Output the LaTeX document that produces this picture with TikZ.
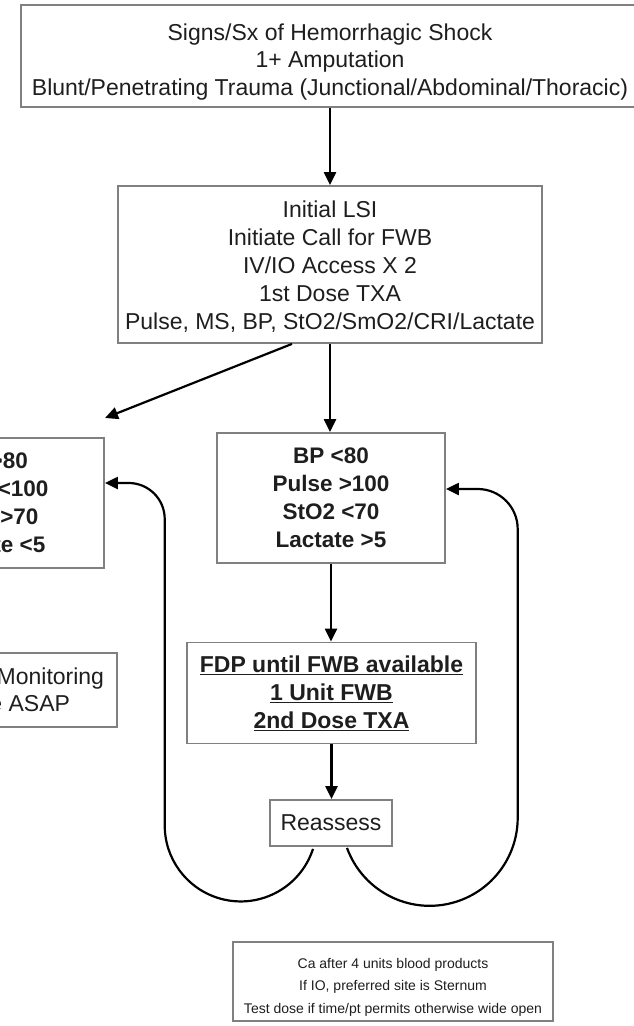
\documentclass[tikz,border=0pt]{standalone}
\usepackage{fontspec}
\setmainfont{Liberation Sans}
\usetikzlibrary{arrows.meta,calc}
\definecolor{boxgray}{RGB}{128,128,128}
\definecolor{txt}{RGB}{30,30,30}
\begin{document}
\begin{tikzpicture}[x=1pt,y=1pt,
  box/.style={draw=boxgray, line width=1.8pt, rectangle, align=center, text=txt, inner sep=0pt, font=\fontsize{23}{28}\selectfont},
  plaintext/.style={align=center, text=txt, inner sep=0pt},
  boldbox/.style={box, font=\fontsize{22.5}{28}\bfseries\selectfont},
  arr/.style={draw=black, line width=2.2pt, -{Triangle[length=13pt,width=12pt]}},
]
\useasboundingbox (0,0) rectangle (634,-1026);
\clip (0,0) rectangle (634,-1026);

\node[box, minimum width=618pt, minimum height=102pt] (top) at (330,-56) {};
\node[plaintext, font=\fontsize{23}{27.5}\selectfont] (toptext) at (330,-62)
  {Signs/Sx of Hemorrhagic Shock\\1+ Amputation\\Blunt/Penetrating Trauma (Junctional/Abdominal/Thoracic)};
\node[box, minimum width=424pt, minimum height=157pt] (lsi) at (330,-264.5) {};
\node[plaintext, font=\fontsize{23}{28}\selectfont] (lsitext) at (330,-267)
  {Initial LSI\\Initiate Call for FWB\\IV/IO Access X 2\\1st Dose TXA\\Pulse, MS, BP, StO2/SmO2/CRI/Lactate};
\node[boldbox, minimum width=228pt, minimum height=130pt] (crit) at (331,-498)
  {BP {<}80\\Pulse {>}100\\StO2 {<}70\\Lactate {>}5};
\node[boldbox, minimum width=228pt, minimum height=130pt] (stable) at (-10,-503)
  {BP {>}80\\Pulse {<}100\\StO2 {>}70\\Lactate {<}5};
\node[box, minimum height=74pt, inner xsep=13pt, font=\fontsize{23}{27}\selectfont, anchor=east] (mon) at (118,-690)
  {Continue Monitoring\\Evacuate ASAP\hspace*{26pt}};
\node[boldbox, minimum width=289pt, minimum height=101pt, font=\fontsize{23}{28}\bfseries\selectfont] (fdp) at (331.5,-693)
  {\underline{FDP until FWB available}\\\underline{1 Unit FWB}\\\underline{2nd Dose TXA}};
\node[box, minimum width=122pt, minimum height=46pt] (reassess) at (331,-823) {Reassess};
\node[box, minimum width=320pt, minimum height=79pt] (note) at (393,-981.5) {};
\node[plaintext, font=\fontsize{14}{22.5}\selectfont] (notetext) at (393,-987)
  {Ca after 4 units blood products\\If IO, preferred site is Sternum\\Test dose if time/pt permits otherwise wide open};

\coordinate (diagtip) at (105,-418);

\draw[arr] (top.south) -- (lsi.north);
\draw[arr] ([xshift=-38pt]lsi.south) -- (diagtip);
\draw[arr] (lsi.south) -- (lsi.south |- crit.north);
\draw[arr] (crit.south) -- (crit.south |- fdp.north);
\draw[arr] (fdp.south) -- (fdp.south |- reassess.north);
\draw[arr] ([xshift=-18pt,yshift=-2pt]reassess.south) arc[start angle=-18,end angle=-180,radius=76pt]
  {[rounded corners=36pt] |- ([yshift=20pt]stable.east)};
\draw[arr] ([xshift=16pt,yshift=-1pt]reassess.south) arc[start angle=-160,end angle=0,radius=88pt]
  {[rounded corners=40pt] |- ([yshift=9pt]crit.east)};
\end{tikzpicture}
\end{document}
